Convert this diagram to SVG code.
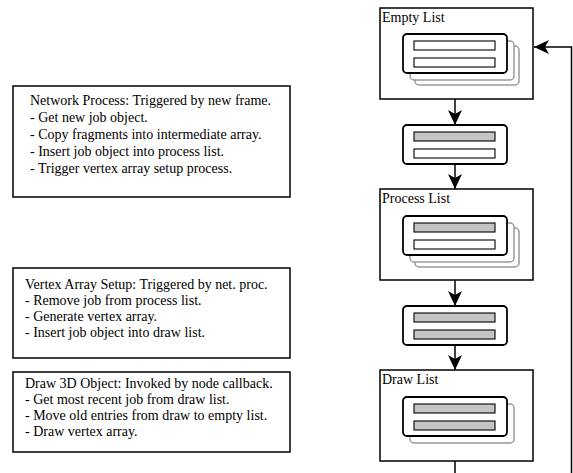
<svg xmlns="http://www.w3.org/2000/svg" width="573" height="473" viewBox="0 0 573 473">
<style>
text{font-family:"Liberation Serif","Times New Roman",serif;font-size:14px;fill:#000}
.box{fill:#fff;stroke:#000;stroke-width:1.5}
.card{fill:#fff;stroke:#000;stroke-width:1.8}
.back{fill:#fff;stroke:#9a9a9a;stroke-width:1.5}
.bw{fill:#fff;stroke:#000;stroke-width:1.1}
.bg{fill:#c4c4c4;stroke:#000;stroke-width:1.1}
.con{fill:none;stroke:#000;stroke-width:1.5}
</style>
<defs>
<marker id="ah" markerUnits="userSpaceOnUse" markerWidth="16" markerHeight="16" viewBox="0 -8 16 16" refX="15" refY="0" orient="auto">
<path d="M0,-7 L15,0 L0,7 L4,0 z" fill="#000"/>
</marker>
</defs>
<g id="network-process">
<rect class="box" x="13" y="86" width="277" height="111"/>
<text x="30" y="105">Network Process: Triggered by new frame.</text>
<text x="30" y="122">- Get new job object.</text>
<text x="30" y="139">- Copy fragments into intermediate array.</text>
<text x="30" y="156">- Insert job object into process list.</text>
<text x="30" y="173">- Trigger vertex array setup process.</text>
</g>
<g id="vertex-array-setup">
<rect class="box" x="13" y="268" width="277" height="90"/>
<text x="25" y="289">Vertex Array Setup: Triggered by net. proc.</text>
<text x="25" y="305">- Remove job from process list.</text>
<text x="25" y="321">- Generate vertex array.</text>
<text x="25" y="337">- Insert job object into draw list.</text>
</g>
<g id="draw-3d-object">
<rect class="box" x="13" y="372" width="277" height="80"/>
<text x="25" y="388">Draw 3D Object: Invoked by node callback.</text>
<text x="25" y="404">- Get most recent job from draw list.</text>
<text x="25" y="420">- Move old entries from draw to empty list.</text>
<text x="25" y="436">- Draw vertex array.</text>
</g>
<g id="empty-list">
<rect class="box" x="380" y="8" width="153" height="91"/>
<text x="382" y="22">Empty List</text>
<rect class="back" x="415" y="46" width="104" height="39" rx="4"/>
<rect class="back" x="410" y="41" width="104" height="39" rx="4"/>
<rect class="card" x="403" y="34" width="104" height="39" rx="4"/>
<rect class="bw" x="414" y="41" width="81" height="9"/>
<rect class="bw" x="414" y="58" width="81" height="9"/>
</g>
<g id="job-1">
<rect class="card" x="403" y="125" width="104" height="39" rx="4"/>
<rect class="bg" x="414" y="132" width="81" height="9"/>
<rect class="bw" x="414" y="149" width="81" height="9"/>
</g>
<g id="process-list">
<rect class="box" x="380" y="189" width="153" height="91"/>
<text x="382" y="203">Process List</text>
<rect class="back" x="415" y="228" width="104" height="39" rx="4"/>
<rect class="back" x="410" y="223" width="104" height="39" rx="4"/>
<rect class="card" x="403" y="216" width="104" height="39" rx="4"/>
<rect class="bg" x="414" y="223" width="81" height="9"/>
<rect class="bw" x="414" y="240" width="81" height="9"/>
</g>
<g id="job-2">
<rect class="card" x="403" y="306" width="104" height="39" rx="4"/>
<rect class="bg" x="414" y="313" width="81" height="9"/>
<rect class="bg" x="414" y="330" width="81" height="9"/>
</g>
<g id="draw-list">
<rect class="box" x="380" y="370" width="153" height="91"/>
<text x="382" y="384">Draw List</text>
<rect class="back" x="410" y="404" width="104" height="39" rx="4"/>
<rect class="card" x="403" y="397" width="104" height="39" rx="4"/>
<rect class="bg" x="414" y="404" width="81" height="9"/>
<rect class="bg" x="414" y="421" width="81" height="9"/>
</g>
<g id="connectors">
<line class="con" x1="455" y1="99" x2="455" y2="125" marker-end="url(#ah)"/>
<line class="con" x1="455" y1="164" x2="455" y2="189" marker-end="url(#ah)"/>
<line class="con" x1="455" y1="280" x2="455" y2="306" marker-end="url(#ah)"/>
<line class="con" x1="455" y1="345" x2="455" y2="370" marker-end="url(#ah)"/>
<path class="con" d="M455,461 V485 H571.5 V47 H534" marker-end="url(#ah)"/>
</g>
</svg>
